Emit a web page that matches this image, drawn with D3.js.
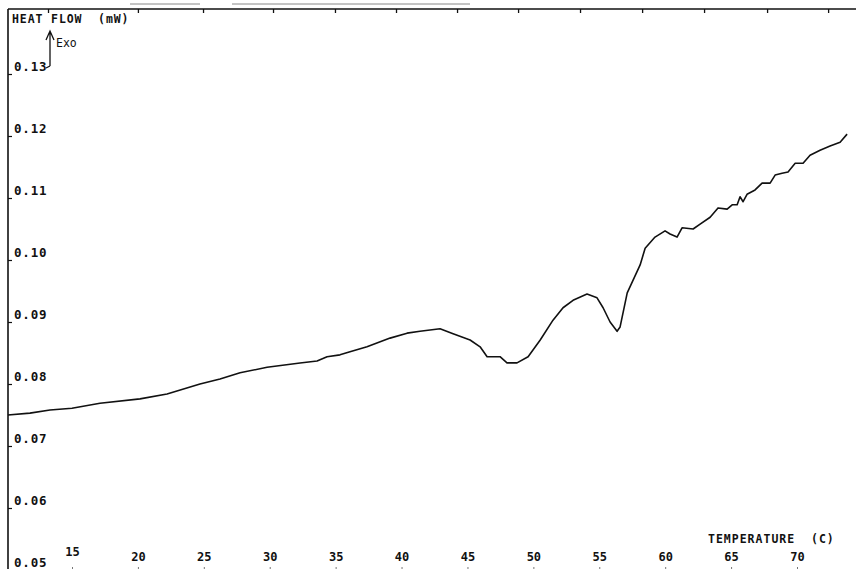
<!DOCTYPE html>
<html><head><meta charset="utf-8">
<script src="https://cdn.jsdelivr.net/npm/d3@7"></script>
<style>
html,body{margin:0;padding:0;background:#fff;}
svg{display:block;}
text{font-family:"DejaVu Sans Mono",monospace;font-weight:bold;fill:#111;white-space:pre;}
</style></head>
<body>
<script>
// ---- data ----
const temperature = [10.14,11.81,13.33,15.0,17.12,20.16,22.21,24.71,26.23,27.75,29.80,32.30,33.59,34.35,35.33,36.09,37.38,39.13,40.42,41.40,42.92,43.91,45.20,45.96,46.49,47.47,48.00,48.76,49.60,50.52,51.49,52.25,53.01,54.07,54.83,55.29,55.82,56.35,56.58,57.12,58.10,58.48,59.23,59.99,60.37,60.90,61.28,62.12,62.65,63.41,64.01,64.70,65.08,65.46,65.68,65.91,66.21,66.82,67.35,67.96,68.34,68.87,69.32,69.86,70.46,70.99,71.75,72.51,73.27,73.80];
const heatFlow = [0.0750,0.0753,0.0758,0.0761,0.0769,0.0776,0.0784,0.0800,0.0808,0.0818,0.0827,0.0834,0.0837,0.0844,0.0847,0.0852,0.0860,0.0874,0.0882,0.0885,0.0889,0.0881,0.0871,0.0860,0.0844,0.0844,0.0834,0.0834,0.0844,0.0871,0.0903,0.0923,0.0935,0.0945,0.0939,0.0923,0.0900,0.0885,0.0892,0.0947,0.0992,0.1019,0.1037,0.1047,0.1042,0.1037,0.1052,0.1050,0.1058,0.1069,0.1084,0.1082,0.1089,0.1089,0.1102,0.1094,0.1106,0.1113,0.1124,0.1124,0.1137,0.1140,0.1142,0.1156,0.1156,0.1169,0.1177,0.1184,0.1190,0.1203];
const xTickValues = [15,20,25,30,35,40,45,50,55,60,65,70];
const xTickLabels = ["15","20","25","30","35","40","45","50","55","60","65","70"];
const yTickValues = [0.05,0.06,0.07,0.08,0.09,0.10,0.11,0.12,0.13];
const yTickLabels = ["0.05","0.06","0.07","0.08","0.09","0.10","0.11","0.12","0.13"];
const topTickValues = [13.18,20.0,24.94,30.25,34.95,39.58,44.21,48.84,53.54,58.25,62.95,67.73,72.36];
const yTitle = "HEAT FLOW  (mW)";
const xTitle = "TEMPERATURE  (C)";
const exoLabel = "Exo";

const W = 856, H = 569;
const x = d3.scaleLinear().domain([15,70]).range([72,797]);
const y = d3.scaleLinear().domain([0.05,0.13]).range([570,74]);
const axisX = 8, topY = 9;

const svg = d3.select("body").append("svg").attr("width",W).attr("height",H);

// faint header artifacts
svg.append("line").attr("x1",130).attr("x2",200).attr("y1",4).attr("y2",4).attr("stroke","#888").attr("stroke-width",1);
svg.append("line").attr("x1",232).attr("x2",470).attr("y1",4).attr("y2",4).attr("stroke","#888").attr("stroke-width",1);

// frame: top line and left axis
svg.append("line").attr("x1",axisX).attr("x2",W).attr("y1",topY).attr("y2",topY).attr("stroke","#111").attr("stroke-width",1.4);
svg.append("line").attr("x1",axisX).attr("x2",axisX).attr("y1",topY).attr("y2",H).attr("stroke","#111").attr("stroke-width",1.6);

// top ticks
const topAxis = d3.axisBottom(x).tickValues(topTickValues).tickSize(4).tickFormat("");
const gt = svg.append("g").attr("transform",`translate(0,${topY})`).call(topAxis);
gt.select(".domain").remove();
gt.selectAll("line").attr("stroke","#111").attr("stroke-width",1.3);

// left axis (ticks inward, labels to right above ticks)
const leftAxis = d3.axisRight(y).tickValues(yTickValues).tickSize(4)
  .tickFormat((d,i)=>yTickLabels[i]);
const gl = svg.append("g").attr("transform",`translate(${axisX},0)`).call(leftAxis);
gl.select(".domain").remove();
gl.selectAll("line").attr("stroke","#111").attr("stroke-width",1.2);
gl.selectAll("text").attr("x",6).attr("dy","-0.3em").attr("text-anchor","start")
  .style("font-size","12.5px").style("letter-spacing","0.8px");

// bottom axis
const bottomAxis = d3.axisTop(x).tickValues(xTickValues).tickSize(2)
  .tickFormat((d,i)=>xTickLabels[i]);
const gb = svg.append("g").attr("transform",`translate(0,${H})`).call(bottomAxis);
gb.select(".domain").remove();
gb.selectAll("line").attr("stroke","#777").attr("stroke-width",1);
gb.selectAll("text").attr("y",-8).attr("dy",0).style("font-size","12px")
  .attr("transform",d=> d===15 ? "translate(0,-5)" : null);

// titles
svg.append("text").attr("x",12).attr("y",23).text(yTitle).style("font-size","11.5px").style("letter-spacing","0.9px");
svg.append("text").attr("x",56).attr("y",47).text(exoLabel).style("font-size","11.5px").style("font-weight","normal");
svg.append("text").attr("x",708).attr("y",543).text(xTitle).style("font-size","11.5px").style("letter-spacing","1px");

// Exo arrow
svg.append("path").attr("d","M50,66 L50,31 M46,40 L50,31 L54,40 M50,66 L46,68")
  .attr("fill","none").attr("stroke","#111").attr("stroke-width",1.3);

// curve
const data = temperature.map((t,i)=>({t, v:heatFlow[i]}));
svg.append("path").datum(data)
  .attr("fill","none").attr("stroke","#111").attr("stroke-width",1.6).attr("stroke-linejoin","round")
  .attr("d", d3.line().x(d=>x(d.t)).y(d=>y(d.v)));
</script>
</body></html>
